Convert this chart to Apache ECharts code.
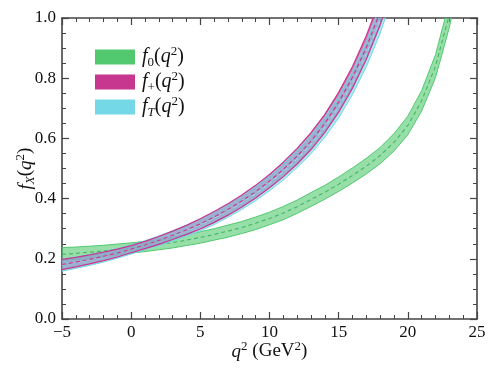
<!DOCTYPE html>
<html>
<head>
<meta charset="utf-8">
<script src="https://cdn.jsdelivr.net/npm/echarts@6/dist/echarts.min.js"></script>
<style>
  html, body { margin: 0; padding: 0; background: #fff; }
  #chart { width: 498px; height: 376px; }
</style>
</head>
<body>
<div id="chart"></div>
<script>
// q^2 points (GeV^2) and form factor values
var q0 = [-5, -4, -3, -2, -1, 0, 1, 2, 3, 4, 5, 6, 7, 8, 9, 10, 11, 12, 13, 14, 15, 16, 17, 18, 19, 20, 21, 22, 23, 23.5];
var f0Mid = [0.215, 0.218, 0.222, 0.226, 0.231, 0.236, 0.241, 0.247, 0.254, 0.262, 0.271, 0.281, 0.292, 0.304, 0.318, 0.334, 0.352, 0.373, 0.397, 0.421, 0.448, 0.477, 0.508, 0.543, 0.587, 0.643, 0.725, 0.840, 1.011, 1.12];
var f0Err = [0.022, 0.021, 0.020, 0.019, 0.018, 0.017, 0.017, 0.017, 0.018, 0.018, 0.019, 0.019, 0.020, 0.020, 0.021, 0.021, 0.022, 0.022, 0.023, 0.023, 0.024, 0.025, 0.026, 0.027, 0.029, 0.031, 0.034, 0.038, 0.042, 0.045];

var qP = [-5, -4, -3, -2, -1, 0, 1, 2, 3, 4, 5, 6, 7, 8, 9, 10, 11, 12, 13, 14, 15, 16, 17, 18, 18.5];
var fPlusMid = [0.181, 0.189, 0.198, 0.208, 0.219, 0.232, 0.246, 0.261, 0.278, 0.296, 0.316, 0.339, 0.364, 0.392, 0.423, 0.458, 0.497, 0.541, 0.591, 0.650, 0.720, 0.803, 0.902, 1.02, 1.09];
var fPlusErr = [0.017, 0.016, 0.015, 0.014, 0.013, 0.012, 0.012, 0.013, 0.014, 0.015, 0.017, 0.018, 0.019, 0.020, 0.021, 0.022, 0.024, 0.026, 0.028, 0.030, 0.033, 0.036, 0.039, 0.043, 0.045];
var fTMid = [0.179, 0.187, 0.196, 0.206, 0.218, 0.231, 0.245, 0.260, 0.276, 0.294, 0.313, 0.335, 0.360, 0.387, 0.417, 0.451, 0.489, 0.532, 0.580, 0.637, 0.704, 0.785, 0.880, 0.995, 1.065];
var fTErr = [0.020, 0.019, 0.018, 0.017, 0.016, 0.015, 0.015, 0.016, 0.017, 0.018, 0.020, 0.021, 0.022, 0.023, 0.024, 0.025, 0.027, 0.029, 0.031, 0.033, 0.036, 0.039, 0.042, 0.046, 0.048];

var green = '#52c96e', magenta = '#c8378f', cyan = '#74d8e6';
var serif = 'Liberation Serif';

function rows(q, mid, err) {
  return q.map(function (x, i) { return [x, mid[i] - err[i], mid[i] + err[i], mid[i]]; });
}
var g = rows(q0, f0Mid, f0Err);
var p = rows(qP, fPlusMid, fPlusErr);
var t = rows(qP, fTMid, fTErr);

function band(name, data, color, fill, z) {
  return {
    type: 'custom', name: name, data: data, z: z, clip: true, silent: true,
    itemStyle: { color: color },
    encode: { x: 0, y: [1, 2] },
    renderItem: function (params, api) {
      if (params.dataIndex !== 0) return;
      var up = [], lo = [];
      data.forEach(function (r) {
        up.push(api.coord([r[0], r[2]]));
        lo.push(api.coord([r[0], r[1]]));
      });
      return { type: 'polygon', shape: { points: up.concat(lo.reverse()) }, style: { fill: fill } };
    }
  };
}
function edge(data, k, color, width, z, dash) {
  return {
    type: 'line', data: data.map(function (r) { return [r[0], r[k]]; }),
    symbol: 'none', silent: true, z: z,
    lineStyle: { color: color, width: width, type: dash ? [4, 3] : 'solid' }
  };
}

function richSet(big, small) {
  return {
    i: { fontFamily: serif, fontStyle: 'italic', fontSize: big, lineHeight: big + 4, verticalAlign: 'middle', color: '#111' },
    n: { fontFamily: serif, fontSize: big, lineHeight: big + 4, verticalAlign: 'middle', color: '#111' },
    sub: { fontFamily: serif, fontSize: small, lineHeight: small, verticalAlign: 'bottom', color: '#111' },
    subi: { fontFamily: serif, fontStyle: 'italic', fontSize: small, lineHeight: small, verticalAlign: 'bottom', color: '#111' },
    sup: { fontFamily: serif, fontSize: small, lineHeight: small, verticalAlign: 'top', color: '#111' }
  };
}
var legendText = {
  f0: '{i|f}{sub|0}{n|(}{i|q}{sup|2}{n|)}',
  fp: '{i|f}{sub|+}{n|(}{i|q}{sup|2}{n|)}',
  fT: '{i|f}{subi|T}{n|(}{i|q}{sup|2}{n|)}'
};

function axisCommon(showLabel, position) {
  return {
    type: 'value', position: position,
    axisLine: { show: true, onZero: false, lineStyle: { color: '#444', width: 1.6 } },
    axisTick: { show: true, inside: true, length: 7, lineStyle: { color: '#444', width: 1.2 } },
    minorTick: { show: true, length: 4, lineStyle: { color: '#444', width: 1 } },
    splitLine: { show: false },
    axisLabel: { show: showLabel, color: '#111', fontFamily: serif, fontSize: 17 }
  };
}
function xAxis(showLabel, position) {
  var a = axisCommon(showLabel, position);
  a.min = -5; a.max = 25; a.interval = 5;
  a.minorTick.splitNumber = 5;
  a.axisLabel.margin = 5;
  a.axisLabel.formatter = function (v) { return v < 0 ? '\u2212' + (-v) : String(v); };
  return a;
}
function yAxis(showLabel, position) {
  var a = axisCommon(showLabel, position);
  a.min = 0; a.max = 1; a.interval = 0.2;
  a.minorTick.splitNumber = 4;
  a.axisLabel.margin = 6;
  a.axisLabel.formatter = function (v) { return v.toFixed(1); };
  return a;
}

var xb = xAxis(true, 'bottom');
xb.name = '{i|q}{sup|2}{n| (GeV}{sup|2}{n|)}';
xb.nameLocation = 'middle';
xb.nameGap = 21;
xb.nameMoveOverlap = false;
xb.nameTextStyle = { rich: richSet(19, 13) };
var yl = yAxis(true, 'left');
yl.name = '{i|f}{subi|X}{n|(}{i|q}{sup|2}{n|)}';
yl.nameLocation = 'middle';
yl.nameGap = 25;
yl.nameMoveOverlap = false;
yl.nameTextStyle = { rich: richSet(19, 13) };

var chart = echarts.init(document.getElementById('chart'), null, { renderer: 'canvas' });
chart.setOption({
  animation: false,
  backgroundColor: '#fff',
  grid: { left: 62, right: 21, top: 18, bottom: 57, containLabel: false, outerBoundsMode: 'none' },
  xAxis: [xb, xAxis(false, 'top')],
  yAxis: [yl, yAxis(false, 'right')],
  legend: {
    orient: 'vertical', left: 90, top: 40,
    itemWidth: 40, itemHeight: 15, itemGap: 1,
    selectedMode: false,
    data: [
      { name: 'f0', icon: 'rect', itemStyle: { color: green, borderWidth: 0 } },
      { name: 'fp', icon: 'rect', itemStyle: { color: magenta, borderWidth: 0 } },
      { name: 'fT', icon: 'rect', itemStyle: { color: cyan, borderWidth: 0 } }
    ],
    formatter: function (name) { return legendText[name]; },
    textStyle: { rich: richSet(20, 13), padding: [0, 0, 0, 2] }
  },
  series: [
    band('f0', g, green, 'rgba(82,201,110,0.6)', 1),
    edge(g, 1, green, 1, 2),
    edge(g, 2, green, 1, 2),
    edge(g, 3, '#4ab865', 1.2, 3, true),
    band('fp', p, magenta, 'rgba(200,55,143,0.7)', 4),
    band('fT', t, cyan, 'rgba(116,216,230,0.6)', 5),
    edge(t, 1, cyan, 1, 6),
    edge(t, 2, cyan, 1, 6),
    edge(p, 1, magenta, 1.2, 7),
    edge(p, 2, magenta, 1.2, 7),
    edge(t, 3, '#9fd6ea', 1.1, 8, true),
    edge(p, 3, magenta, 1.2, 9, true)
  ]
});
</script>
</body>
</html>
